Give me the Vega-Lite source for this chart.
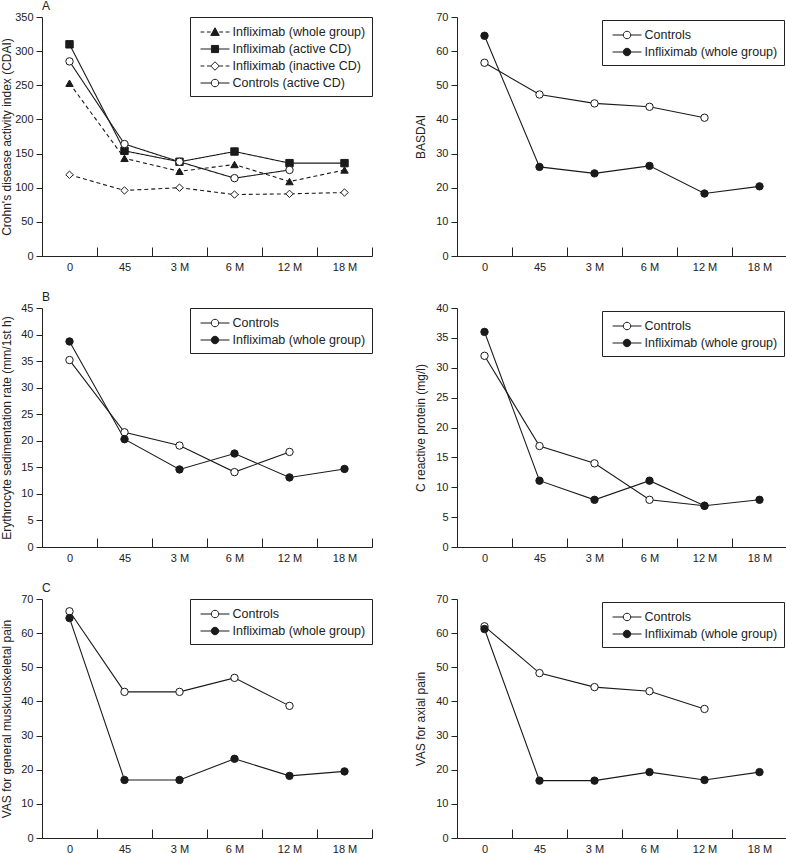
{
  "$schema": "https://vega.github.io/schema/vega-lite/v6.json",
  "padding": {"left": 0, "top": 0, "right": 0, "bottom": 0},
  "background": "white",
  "config": {
    "font": "Liberation Sans",
    "view": {"stroke": null},
    "axis": {"grid": false, "domainColor": "#222", "tickColor": "#222", "labelColor": "#222", "titleColor": "#222", "labelFont": "Liberation Sans", "titleFont": "Liberation Sans", "labelFontSize": 11, "titleFontSize": 12, "titleFontWeight": "normal", "domainWidth": 1, "tickWidth": 1},
    "axisX": {"tickBand": "extent", "tickSize": -9, "labelPadding": 14, "labelAngle": 0},
    "axisY": {"tickSize": 6, "labelPadding": 3},
    "title": {"font": "Liberation Sans", "fontSize": 12, "fontWeight": "normal", "anchor": "start", "frame": "group", "offset": -2, "color": "#222"},
    "legend": {"title": null, "orient": "top-right", "padding": 6, "strokeColor": "#222", "fillColor": "white", "labelFont": "Liberation Sans", "labelFontSize": 12.5, "labelColor": "#222", "labelOffset": 8.5, "symbolOffset": 10, "rowPadding": 1, "symbolSize": 289, "symbolStrokeColor": "#222", "symbolStrokeWidth": 1, "labelLimit": 0}
  },
  "resolve": {"scale": {"fill": "independent", "shape": "independent", "strokeDash": "independent"}, "legend": {"fill": "independent", "shape": "independent", "strokeDash": "independent"}},
  "data": {"values": [
    {"panel": "A", "series": "Infliximab (whole group)", "time": "0", "value": 253},
    {"panel": "A", "series": "Infliximab (whole group)", "time": "45", "value": 143},
    {"panel": "A", "series": "Infliximab (whole group)", "time": "3 M", "value": 124},
    {"panel": "A", "series": "Infliximab (whole group)", "time": "6 M", "value": 134},
    {"panel": "A", "series": "Infliximab (whole group)", "time": "12 M", "value": 109},
    {"panel": "A", "series": "Infliximab (whole group)", "time": "18 M", "value": 126},
    {"panel": "A", "series": "Infliximab (active CD)", "time": "0", "value": 310},
    {"panel": "A", "series": "Infliximab (active CD)", "time": "45", "value": 154},
    {"panel": "A", "series": "Infliximab (active CD)", "time": "3 M", "value": 138},
    {"panel": "A", "series": "Infliximab (active CD)", "time": "6 M", "value": 153},
    {"panel": "A", "series": "Infliximab (active CD)", "time": "12 M", "value": 136},
    {"panel": "A", "series": "Infliximab (active CD)", "time": "18 M", "value": 136},
    {"panel": "A", "series": "Infliximab (inactive CD)", "time": "0", "value": 119},
    {"panel": "A", "series": "Infliximab (inactive CD)", "time": "45", "value": 96},
    {"panel": "A", "series": "Infliximab (inactive CD)", "time": "3 M", "value": 100},
    {"panel": "A", "series": "Infliximab (inactive CD)", "time": "6 M", "value": 90},
    {"panel": "A", "series": "Infliximab (inactive CD)", "time": "12 M", "value": 91},
    {"panel": "A", "series": "Infliximab (inactive CD)", "time": "18 M", "value": 93},
    {"panel": "A", "series": "Controls (active CD)", "time": "0", "value": 285},
    {"panel": "A", "series": "Controls (active CD)", "time": "45", "value": 164},
    {"panel": "A", "series": "Controls (active CD)", "time": "3 M", "value": 138},
    {"panel": "A", "series": "Controls (active CD)", "time": "6 M", "value": 114},
    {"panel": "A", "series": "Controls (active CD)", "time": "12 M", "value": 126},
    {"panel": "BASDAI", "series": "Controls", "time": "0", "value": 56.6},
    {"panel": "BASDAI", "series": "Controls", "time": "45", "value": 47.3},
    {"panel": "BASDAI", "series": "Controls", "time": "3 M", "value": 44.7},
    {"panel": "BASDAI", "series": "Controls", "time": "6 M", "value": 43.7},
    {"panel": "BASDAI", "series": "Controls", "time": "12 M", "value": 40.5},
    {"panel": "BASDAI", "series": "Infliximab (whole group)", "time": "0", "value": 64.5},
    {"panel": "BASDAI", "series": "Infliximab (whole group)", "time": "45", "value": 26.1},
    {"panel": "BASDAI", "series": "Infliximab (whole group)", "time": "3 M", "value": 24.2},
    {"panel": "BASDAI", "series": "Infliximab (whole group)", "time": "6 M", "value": 26.4},
    {"panel": "BASDAI", "series": "Infliximab (whole group)", "time": "12 M", "value": 18.3},
    {"panel": "BASDAI", "series": "Infliximab (whole group)", "time": "18 M", "value": 20.4},
    {"panel": "ESR", "series": "Controls", "time": "0", "value": 35.2},
    {"panel": "ESR", "series": "Controls", "time": "45", "value": 21.6},
    {"panel": "ESR", "series": "Controls", "time": "3 M", "value": 19.1},
    {"panel": "ESR", "series": "Controls", "time": "6 M", "value": 14.1},
    {"panel": "ESR", "series": "Controls", "time": "12 M", "value": 17.9},
    {"panel": "ESR", "series": "Infliximab (whole group)", "time": "0", "value": 38.7},
    {"panel": "ESR", "series": "Infliximab (whole group)", "time": "45", "value": 20.3},
    {"panel": "ESR", "series": "Infliximab (whole group)", "time": "3 M", "value": 14.6},
    {"panel": "ESR", "series": "Infliximab (whole group)", "time": "6 M", "value": 17.6},
    {"panel": "ESR", "series": "Infliximab (whole group)", "time": "12 M", "value": 13.1},
    {"panel": "ESR", "series": "Infliximab (whole group)", "time": "18 M", "value": 14.7},
    {"panel": "CRP", "series": "Controls", "time": "0", "value": 32.0},
    {"panel": "CRP", "series": "Controls", "time": "45", "value": 16.9},
    {"panel": "CRP", "series": "Controls", "time": "3 M", "value": 14.0},
    {"panel": "CRP", "series": "Controls", "time": "6 M", "value": 7.9},
    {"panel": "CRP", "series": "Controls", "time": "12 M", "value": 6.9},
    {"panel": "CRP", "series": "Infliximab (whole group)", "time": "0", "value": 36.0},
    {"panel": "CRP", "series": "Infliximab (whole group)", "time": "45", "value": 11.1},
    {"panel": "CRP", "series": "Infliximab (whole group)", "time": "3 M", "value": 7.9},
    {"panel": "CRP", "series": "Infliximab (whole group)", "time": "6 M", "value": 11.1},
    {"panel": "CRP", "series": "Infliximab (whole group)", "time": "12 M", "value": 6.9},
    {"panel": "CRP", "series": "Infliximab (whole group)", "time": "18 M", "value": 7.9},
    {"panel": "VASG", "series": "Controls", "time": "0", "value": 66.4},
    {"panel": "VASG", "series": "Controls", "time": "45", "value": 42.8},
    {"panel": "VASG", "series": "Controls", "time": "3 M", "value": 42.8},
    {"panel": "VASG", "series": "Controls", "time": "6 M", "value": 46.9},
    {"panel": "VASG", "series": "Controls", "time": "12 M", "value": 38.7},
    {"panel": "VASG", "series": "Infliximab (whole group)", "time": "0", "value": 64.4},
    {"panel": "VASG", "series": "Infliximab (whole group)", "time": "45", "value": 17.0},
    {"panel": "VASG", "series": "Infliximab (whole group)", "time": "3 M", "value": 17.0},
    {"panel": "VASG", "series": "Infliximab (whole group)", "time": "6 M", "value": 23.2},
    {"panel": "VASG", "series": "Infliximab (whole group)", "time": "12 M", "value": 18.2},
    {"panel": "VASG", "series": "Infliximab (whole group)", "time": "18 M", "value": 19.5},
    {"panel": "VASA", "series": "Controls", "time": "0", "value": 62.0},
    {"panel": "VASA", "series": "Controls", "time": "45", "value": 48.3},
    {"panel": "VASA", "series": "Controls", "time": "3 M", "value": 44.2},
    {"panel": "VASA", "series": "Controls", "time": "6 M", "value": 43.0},
    {"panel": "VASA", "series": "Controls", "time": "12 M", "value": 37.8},
    {"panel": "VASA", "series": "Infliximab (whole group)", "time": "0", "value": 61.2},
    {"panel": "VASA", "series": "Infliximab (whole group)", "time": "45", "value": 16.8},
    {"panel": "VASA", "series": "Infliximab (whole group)", "time": "3 M", "value": 16.8},
    {"panel": "VASA", "series": "Infliximab (whole group)", "time": "6 M", "value": 19.3},
    {"panel": "VASA", "series": "Infliximab (whole group)", "time": "12 M", "value": 17.0},
    {"panel": "VASA", "series": "Infliximab (whole group)", "time": "18 M", "value": 19.3}
  ]},
  "columns": 2,
  "spacing": {"row": 19, "column": 41},
  "concat": [
    {
      "width": 330, "height": 239,
      "title": {"text": "A"},
      "transform": [{"filter": "datum.panel === 'A'"}],
      "encoding": {
        "x": {"field": "time", "type": "ordinal", "bandPosition": 0.5, "scale": {"type": "band", "domain": ["0", "45", "3 M", "6 M", "12 M", "18 M"], "paddingInner": 0, "paddingOuter": 0}, "axis": {"title": null}},
        "y": {"field": "value", "type": "quantitative", "scale": {"domain": [0, 350], "nice": false}, "axis": {"values": [0, 50, 100, 150, 200, 250, 300, 350], "title": "Crohn's disease activity index (CDAI)", "titlePadding": 1}}
      },
      "layer": [
        {"mark": {"type": "line", "color": "#1a1a1a", "strokeWidth": 1.1},
         "encoding": {"detail": {"field": "series"}, "strokeDash": {"field": "series", "type": "nominal", "scale": {"domain": ["Controls (active CD)", "Infliximab (active CD)", "Infliximab (inactive CD)", "Infliximab (whole group)"], "range": [[1, 0], [1, 0], [4, 3], [4, 3]]}, "legend": null}}},
        {"mark": {"type": "point", "filled": true, "size": 55, "stroke": "#1a1a1a", "strokeWidth": 1, "opacity": 1},
         "encoding": {
           "shape": {"field": "series", "type": "nominal", "scale": {"domain": ["Controls (active CD)", "Infliximab (active CD)", "Infliximab (inactive CD)", "Infliximab (whole group)"], "range": ["circle", "square", "diamond", "triangle-up"]}, "legend": null},
           "fill": {"field": "series", "type": "nominal", "scale": {"domain": ["Infliximab (whole group)", "Infliximab (active CD)", "Infliximab (inactive CD)", "Controls (active CD)"], "range": ["#1a1a1a", "#1a1a1a", "white", "white"]},
             "legend": {"offset": 0, "encoding": {"symbols": {
               "shape": {"condition": [
                 {"test": "datum.value === 'Infliximab (whole group)'", "value": "M-1.7,0L-1.25,0M-0.95,0L-0.5,0M0.5,0L0.95,0M1.25,0L1.7,0M-0.5,0.4L0,-0.5L0.5,0.4Z"},
                 {"test": "datum.value === 'Infliximab (active CD)'", "value": "M-1.7,0L-0.42,0M0.42,0L1.7,0M-0.42,-0.42L0.42,-0.42L0.42,0.42L-0.42,0.42Z"},
                 {"test": "datum.value === 'Infliximab (inactive CD)'", "value": "M-1.7,0L-1.25,0M-0.95,0L-0.5,0M0.5,0L0.95,0M1.25,0L1.7,0M-0.5,0L0,-0.5L0.5,0L0,0.5Z"}
               ], "value": "M-1.7,0L-0.44,0M0.44,0L1.7,0M-0.44,0A0.44,0.44,0,1,1,0.44,0A0.44,0.44,0,1,1,-0.44,0Z"},
               "size": {"value": 289}, "stroke": {"value": "#1a1a1a"}, "strokeWidth": {"value": 1}, "opacity": {"value": 1}}}}}
         }}
      ]
    },
    {
      "width": 330, "height": 239,
      "transform": [{"filter": "datum.panel === 'BASDAI'"}],
      "encoding": {
        "x": {"field": "time", "type": "ordinal", "bandPosition": 0.5, "scale": {"type": "band", "domain": ["0", "45", "3 M", "6 M", "12 M", "18 M"], "paddingInner": 0, "paddingOuter": 0}, "axis": {"title": null}},
        "y": {"field": "value", "type": "quantitative", "scale": {"domain": [0, 70], "nice": false}, "axis": {"values": [0, 10, 20, 30, 40, 50, 60, 70], "title": "BASDAI", "titlePadding": 8}}
      },
      "layer": [
        {"mark": {"type": "line", "color": "#1a1a1a", "strokeWidth": 1.1}, "encoding": {"detail": {"field": "series"}}},
        {"mark": {"type": "point", "filled": true, "size": 55, "stroke": "#1a1a1a", "strokeWidth": 1, "opacity": 1},
         "encoding": {
           "fill": {"field": "series", "type": "nominal", "scale": {"domain": ["Controls", "Infliximab (whole group)"], "range": ["white", "#1a1a1a"]},
             "legend": {"offset": 3, "encoding": {"symbols": {"shape": {"value": "M-1.7,0L-0.44,0M0.44,0L1.7,0M-0.44,0A0.44,0.44,0,1,1,0.44,0A0.44,0.44,0,1,1,-0.44,0Z"}, "size": {"value": 289}, "stroke": {"value": "#1a1a1a"}, "strokeWidth": {"value": 1}, "opacity": {"value": 1}}}}}
         }}
      ]
    },
    {
      "width": 330, "height": 239,
      "title": {"text": "B"},
      "transform": [{"filter": "datum.panel === 'ESR'"}],
      "encoding": {
        "x": {"field": "time", "type": "ordinal", "bandPosition": 0.5, "scale": {"type": "band", "domain": ["0", "45", "3 M", "6 M", "12 M", "18 M"], "paddingInner": 0, "paddingOuter": 0}, "axis": {"title": null}},
        "y": {"field": "value", "type": "quantitative", "scale": {"domain": [0, 45], "nice": false}, "axis": {"values": [0, 5, 10, 15, 20, 25, 30, 35, 40, 45], "title": "Erythrocyte sedimentation rate (mm/1st h)", "titlePadding": 7}}
      },
      "layer": [
        {"mark": {"type": "line", "color": "#1a1a1a", "strokeWidth": 1.1}, "encoding": {"detail": {"field": "series"}}},
        {"mark": {"type": "point", "filled": true, "size": 55, "stroke": "#1a1a1a", "strokeWidth": 1, "opacity": 1},
         "encoding": {
           "fill": {"field": "series", "type": "nominal", "scale": {"domain": ["Controls", "Infliximab (whole group)"], "range": ["white", "#1a1a1a"]},
             "legend": {"offset": 0, "encoding": {"symbols": {"shape": {"value": "M-1.7,0L-0.44,0M0.44,0L1.7,0M-0.44,0A0.44,0.44,0,1,1,0.44,0A0.44,0.44,0,1,1,-0.44,0Z"}, "size": {"value": 289}, "stroke": {"value": "#1a1a1a"}, "strokeWidth": {"value": 1}, "opacity": {"value": 1}}}}}
         }}
      ]
    },
    {
      "width": 330, "height": 239,
      "transform": [{"filter": "datum.panel === 'CRP'"}],
      "encoding": {
        "x": {"field": "time", "type": "ordinal", "bandPosition": 0.5, "scale": {"type": "band", "domain": ["0", "45", "3 M", "6 M", "12 M", "18 M"], "paddingInner": 0, "paddingOuter": 0}, "axis": {"title": null}},
        "y": {"field": "value", "type": "quantitative", "scale": {"domain": [0, 40], "nice": false}, "axis": {"values": [0, 5, 10, 15, 20, 25, 30, 35, 40], "title": "C reactive protein (mg/l)", "titlePadding": 8}}
      },
      "layer": [
        {"mark": {"type": "line", "color": "#1a1a1a", "strokeWidth": 1.1}, "encoding": {"detail": {"field": "series"}}},
        {"mark": {"type": "point", "filled": true, "size": 55, "stroke": "#1a1a1a", "strokeWidth": 1, "opacity": 1},
         "encoding": {
           "fill": {"field": "series", "type": "nominal", "scale": {"domain": ["Controls", "Infliximab (whole group)"], "range": ["white", "#1a1a1a"]},
             "legend": {"offset": 3, "encoding": {"symbols": {"shape": {"value": "M-1.7,0L-0.44,0M0.44,0L1.7,0M-0.44,0A0.44,0.44,0,1,1,0.44,0A0.44,0.44,0,1,1,-0.44,0Z"}, "size": {"value": 289}, "stroke": {"value": "#1a1a1a"}, "strokeWidth": {"value": 1}, "opacity": {"value": 1}}}}}
         }}
      ]
    },
    {
      "width": 330, "height": 239,
      "title": {"text": "C"},
      "transform": [{"filter": "datum.panel === 'VASG'"}],
      "encoding": {
        "x": {"field": "time", "type": "ordinal", "bandPosition": 0.5, "scale": {"type": "band", "domain": ["0", "45", "3 M", "6 M", "12 M", "18 M"], "paddingInner": 0, "paddingOuter": 0}, "axis": {"title": null}},
        "y": {"field": "value", "type": "quantitative", "scale": {"domain": [0, 70], "nice": false}, "axis": {"values": [0, 10, 20, 30, 40, 50, 60, 70], "title": "VAS for general muskuloskeletal pain", "titlePadding": 7}}
      },
      "layer": [
        {"mark": {"type": "line", "color": "#1a1a1a", "strokeWidth": 1.1}, "encoding": {"detail": {"field": "series"}}},
        {"mark": {"type": "point", "filled": true, "size": 55, "stroke": "#1a1a1a", "strokeWidth": 1, "opacity": 1},
         "encoding": {
           "fill": {"field": "series", "type": "nominal", "scale": {"domain": ["Controls", "Infliximab (whole group)"], "range": ["white", "#1a1a1a"]},
             "legend": {"offset": 0, "encoding": {"symbols": {"shape": {"value": "M-1.7,0L-0.44,0M0.44,0L1.7,0M-0.44,0A0.44,0.44,0,1,1,0.44,0A0.44,0.44,0,1,1,-0.44,0Z"}, "size": {"value": 289}, "stroke": {"value": "#1a1a1a"}, "strokeWidth": {"value": 1}, "opacity": {"value": 1}}}}}
         }}
      ]
    },
    {
      "width": 330, "height": 239,
      "transform": [{"filter": "datum.panel === 'VASA'"}],
      "encoding": {
        "x": {"field": "time", "type": "ordinal", "bandPosition": 0.5, "scale": {"type": "band", "domain": ["0", "45", "3 M", "6 M", "12 M", "18 M"], "paddingInner": 0, "paddingOuter": 0}, "axis": {"title": null}},
        "y": {"field": "value", "type": "quantitative", "scale": {"domain": [0, 70], "nice": false}, "axis": {"values": [0, 10, 20, 30, 40, 50, 60, 70], "title": "VAS for axial pain", "titlePadding": 8}}
      },
      "layer": [
        {"mark": {"type": "line", "color": "#1a1a1a", "strokeWidth": 1.1}, "encoding": {"detail": {"field": "series"}}},
        {"mark": {"type": "point", "filled": true, "size": 55, "stroke": "#1a1a1a", "strokeWidth": 1, "opacity": 1},
         "encoding": {
           "fill": {"field": "series", "type": "nominal", "scale": {"domain": ["Controls", "Infliximab (whole group)"], "range": ["white", "#1a1a1a"]},
             "legend": {"offset": 3, "encoding": {"symbols": {"shape": {"value": "M-1.7,0L-0.44,0M0.44,0L1.7,0M-0.44,0A0.44,0.44,0,1,1,0.44,0A0.44,0.44,0,1,1,-0.44,0Z"}, "size": {"value": 289}, "stroke": {"value": "#1a1a1a"}, "strokeWidth": {"value": 1}, "opacity": {"value": 1}}}}}
         }}
      ]
    }
  ]
}
